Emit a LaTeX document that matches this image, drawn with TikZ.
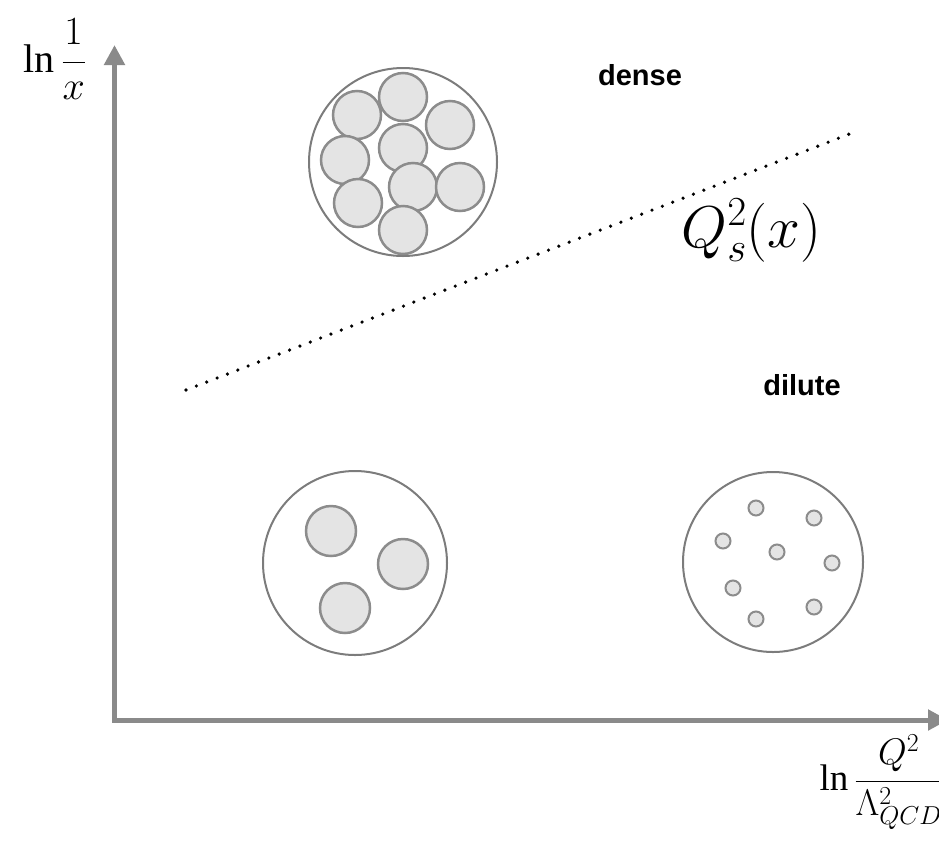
\RequirePackage{fix-cm}
\documentclass[tikz,border=0pt]{standalone}
\usepackage{fontspec}
\setmainfont{Liberation Serif}
\newfontfamily\regionfont{Liberation Sans}
\usetikzlibrary{arrows.meta}

\definecolor{axisgray}{HTML}{8A8A8A}
\definecolor{rimgray}{HTML}{7C7C7C}
\definecolor{partonfill}{HTML}{E4E4E4}
\definecolor{partonedge}{HTML}{8C8C8C}

\begin{document}
\begin{tikzpicture}[x=1pt,y=-1pt,
    axis/.style={axisgray, line width=5pt, {Triangle[width=20pt,length=20pt]}-{Triangle[width=20pt,length=20pt]}},
    hadron/.style={draw=rimgray, line width=2pt},
    parton/.style={draw=partonedge, fill=partonfill, line width=2.5pt},
    region/.style={font=\regionfont\bfseries\fontsize{29}{34}\selectfont, anchor=base},
    saturation/.style={black, line width=3.6pt, line cap=round, dash pattern=on 0pt off 11.1pt}]

\useasboundingbox (0,0) rectangle (939,844);

% Axes
\coordinate (ytip) at (114.5,45);
\coordinate (origin) at (114.5,720);
\coordinate (xtip) at (948,720);
\draw[axis] (ytip) -- (origin) -- (xtip);

\node[anchor=base west, font=\fontsize{40}{48}\selectfont] (ylabel) at (20,72) {$\displaystyle\ln\frac{1}{x}$};
\node[anchor=base west, font=\fontsize{37}{44}\selectfont] (xlabel) at (816,790) {$\displaystyle\ln\frac{Q^2}{\Lambda^2_{QCD}}$};

% Saturation line
\coordinate (satlow) at (186,390);
\coordinate (sathigh) at (852,133);
\draw[saturation] (satlow) -- (sathigh);
\node[anchor=base west, font=\fontsize{59}{68}\selectfont] (qslabel) at (678,247) {$Q_s^2(x)$};

\node[region] (dense) at (640,85) {dense};
\node[region] (dilute) at (802,395) {dilute};

% Top: dense hadron
\begin{scope}[shift={(403,162)}]
    \coordinate (densecenter) at (0,0);
    \draw[hadron] (densecenter) circle (94);
    \foreach \px/\py in {0/-65, -46/-47, 47/-37, 0/-14, -58/-2, 10/25, 57/25, -45/41, 0/68} {
        \draw[parton] (\px,\py) circle (24);
    }
\end{scope}

% Bottom left: few large partons
\begin{scope}[shift={(355,563)}]
    \coordinate (fewcenter) at (0,0);
    \draw[hadron] (fewcenter) circle (92);
    \foreach \px/\py in {-24/-32, 48/1, -10/45} {
        \draw[parton] (\px,\py) circle (25);
    }
\end{scope}

% Bottom right: dilute hadron
\begin{scope}[shift={(773,562)}]
    \coordinate (dilutecenter) at (0,0);
    \draw[hadron] (dilutecenter) circle (90);
    \foreach \px/\py in {-17/-54, 41/-44, -50/-21, 4/-10, 59/1, -40/26, 41/45, -17/57} {
        \draw[parton, line width=2pt] (\px,\py) circle (7.5);
    }
\end{scope}

\end{tikzpicture}
\end{document}
